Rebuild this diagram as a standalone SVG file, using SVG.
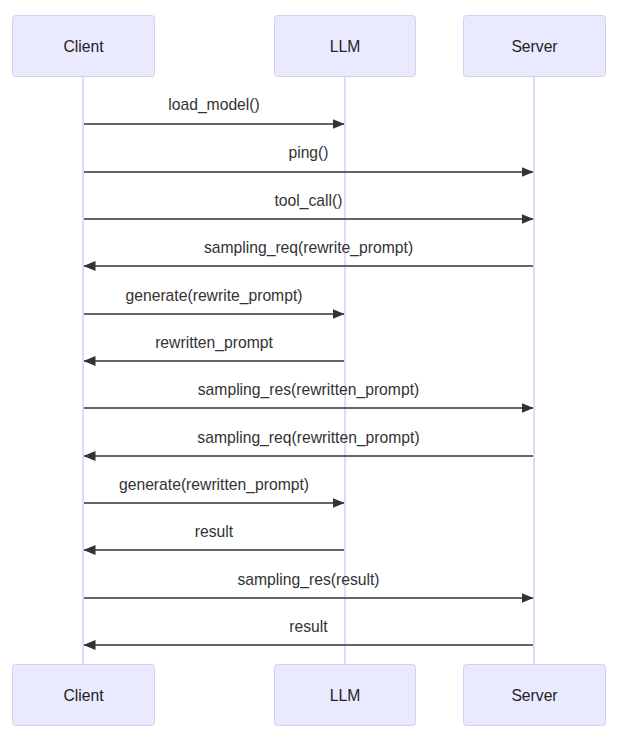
<svg xmlns="http://www.w3.org/2000/svg" width="617" height="738" viewBox="0 0 617 738">
<style>
.actor{fill:#eaeaff;stroke:#d8cdf3;stroke-width:1}
.life{stroke:#d8cdf3;stroke-width:1.5}
.atext{font-family:"Liberation Sans",Arial,sans-serif;font-size:15.7px;fill:#222;text-anchor:middle;dominant-baseline:central}
.msg{stroke:#333;stroke-width:1.5;fill:none}
.mtext{font-family:"Liberation Sans",Arial,sans-serif;font-size:15.7px;fill:#333;text-anchor:middle;dominant-baseline:central}
</style>
<defs>
<marker id="arrow" viewBox="0 0 12 10" refX="11.5" refY="5" markerWidth="12" markerHeight="10" markerUnits="userSpaceOnUse" orient="auto">
<path d="M0,0 L12,5 L0,10 z" fill="#333"/>
</marker>
</defs>
<g id="lifelines">
<line class="life" x1="83" y1="76" x2="83" y2="664"/>
<line class="life" x1="345" y1="76" x2="345" y2="664"/>
<line class="life" x1="534" y1="76" x2="534" y2="664"/>
</g>
<g id="actor-client-top"><rect class="actor" x="12.5" y="15.5" width="142" height="61" rx="3"/><text class="atext" x="83.5" y="46">Client</text></g>
<g id="actor-llm-top"><rect class="actor" x="274.5" y="15.5" width="141" height="61" rx="3"/><text class="atext" x="345" y="46">LLM</text></g>
<g id="actor-server-top"><rect class="actor" x="463.5" y="15.5" width="142" height="61" rx="3"/><text class="atext" x="534.5" y="46">Server</text></g>
<g id="actor-client-bottom"><rect class="actor" x="12.5" y="664.5" width="142" height="61" rx="3"/><text class="atext" x="83.5" y="695">Client</text></g>
<g id="actor-llm-bottom"><rect class="actor" x="274.5" y="664.5" width="141" height="61" rx="3"/><text class="atext" x="345" y="695">LLM</text></g>
<g id="actor-server-bottom"><rect class="actor" x="463.5" y="664.5" width="142" height="61" rx="3"/><text class="atext" x="534.5" y="695">Server</text></g>
<g id="connectors" marker-end="url(#arrow)">
<line class="msg" x1="84" y1="124" x2="344" y2="124" marker-end="url(#arrow)"/>
<line class="msg" x1="84" y1="172" x2="533" y2="172" marker-end="url(#arrow)"/>
<line class="msg" x1="84" y1="219" x2="533" y2="219" marker-end="url(#arrow)"/>
<line class="msg" x1="533" y1="266" x2="84" y2="266" marker-end="url(#arrow)"/>
<line class="msg" x1="84" y1="314" x2="344" y2="314" marker-end="url(#arrow)"/>
<line class="msg" x1="344" y1="361" x2="84" y2="361" marker-end="url(#arrow)"/>
<line class="msg" x1="84" y1="408" x2="533" y2="408" marker-end="url(#arrow)"/>
<line class="msg" x1="533" y1="456" x2="84" y2="456" marker-end="url(#arrow)"/>
<line class="msg" x1="84" y1="503" x2="344" y2="503" marker-end="url(#arrow)"/>
<line class="msg" x1="344" y1="550" x2="84" y2="550" marker-end="url(#arrow)"/>
<line class="msg" x1="84" y1="598" x2="533" y2="598" marker-end="url(#arrow)"/>
<line class="msg" x1="533" y1="645" x2="84" y2="645" marker-end="url(#arrow)"/>
</g>
<g id="labels">
<text class="mtext" x="214" y="104">load_model()</text>
<text class="mtext" x="308.5" y="152">ping()</text>
<text class="mtext" x="308.5" y="200">tool_call()</text>
<text class="mtext" x="308.5" y="247">sampling_req(rewrite_prompt)</text>
<text class="mtext" x="214" y="295">generate(rewrite_prompt)</text>
<text class="mtext" x="214" y="342">rewritten_prompt</text>
<text class="mtext" x="308.5" y="389">sampling_res(rewritten_prompt)</text>
<text class="mtext" x="308.5" y="437">sampling_req(rewritten_prompt)</text>
<text class="mtext" x="214" y="484">generate(rewritten_prompt)</text>
<text class="mtext" x="214" y="531">result</text>
<text class="mtext" x="308.5" y="579">sampling_res(result)</text>
<text class="mtext" x="308.5" y="626">result</text>
</g>
</svg>
